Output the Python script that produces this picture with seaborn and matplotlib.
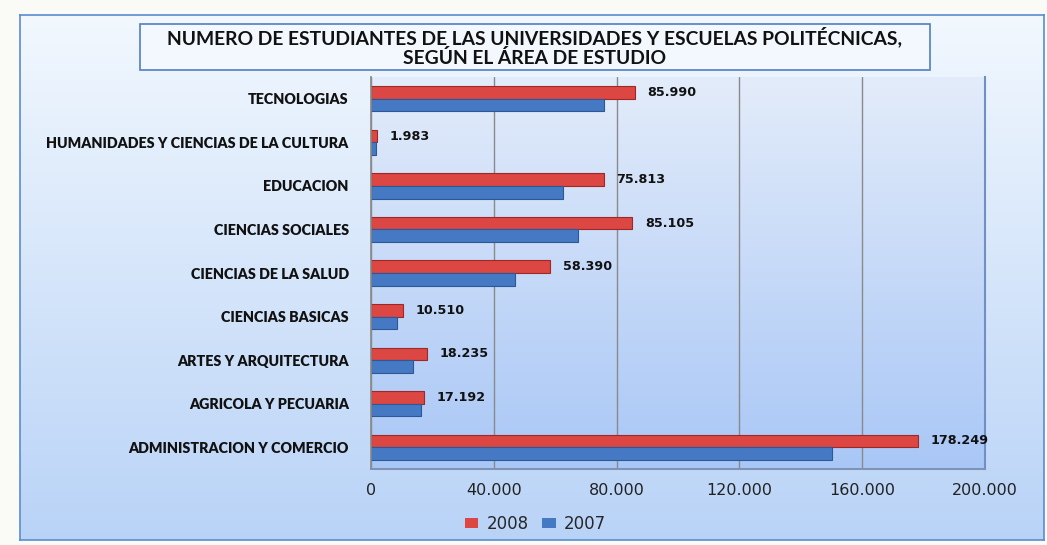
import matplotlib
matplotlib.use("Agg")
import matplotlib.pyplot as plt
from matplotlib.patches import Rectangle
from matplotlib.ticker import FuncFormatter
import numpy as np
import pandas as pd
import seaborn as sns

# datos
areas = [
    "TECNOLOGIAS",
    "HUMANIDADES Y CIENCIAS DE LA CULTURA",
    "EDUCACION",
    "CIENCIAS SOCIALES",
    "CIENCIAS DE LA SALUD",
    "CIENCIAS BASICAS",
    "ARTES Y ARQUITECTURA",
    "AGRICOLA Y PECUARIA",
    "ADMINISTRACION Y COMERCIO",
]
est_2008 = [85990, 1983, 75813, 85105, 58390, 10510, 18235, 17192, 178249]
est_2007 = [75800, 1600, 62700, 67400, 47000, 8600, 13700, 16200, 150000]
years = ["2008", "2007"]
xticks = [0, 40000, 80000, 120000, 160000, 200000]
title = ("NUMERO DE ESTUDIANTES DE LAS UNIVERSIDADES Y ESCUELAS POLITÉCNICAS,\n"
         "SEGÚN EL ÁREA DE ESTUDIO")

df = pd.DataFrame({
    "area": areas * 2,
    "anio": [years[0]] * len(areas) + [years[1]] * len(areas),
    "valor": est_2008 + est_2007,
})

sns.set_theme(style="white")
plt.rcParams["font.family"] = ["DejaVu Sans"]

fig = plt.figure(figsize=(10.47, 5.45), dpi=100)
fig.patch.set_facecolor("#fafaf6")

# fondo degradado del area del grafico
bg = fig.add_axes([0.019, 0.009, 0.978, 0.964], zorder=0)
grad = np.linspace(0, 1, 256).reshape(-1, 1)
cmap_bg = matplotlib.colors.LinearSegmentedColormap.from_list("bg", ["#f2f8fe", "#b9d3f7"])
bg.imshow(grad, aspect="auto", cmap=cmap_bg, extent=(0, 1, 0, 1), origin="upper")
bg.set_xticks([]); bg.set_yticks([])
for s in bg.spines.values():
    s.set_color("#5b8bd0"); s.set_linewidth(1.2)

# fondo degradado del area de trazado
pos = [0.3543, 0.1394, 0.5865, 0.7193]
pbg = fig.add_axes(pos, zorder=1)
cmap_p = matplotlib.colors.LinearSegmentedColormap.from_list("pl", ["#e3ecfa", "#a9c7f6"])
pbg.imshow(grad, aspect="auto", cmap=cmap_p, extent=(0, 1, 0, 1), origin="upper")
pbg.set_xticks([]); pbg.set_yticks([])
for s in pbg.spines.values():
    s.set_visible(False)

ax = fig.add_axes(pos, zorder=2)
ax.patch.set_alpha(0)
sns.barplot(data=df, y="area", x="valor", hue="anio", hue_order=years,
            palette=["#dc4643", "#4579c4"], saturation=1, orient="h", width=0.58,
            edgecolor="none", ax=ax, legend=True)

for c, ec in zip(ax.containers, ["#9e2826", "#2b5896"]):
    for b in c:
        b.set_edgecolor(ec)
        b.set_linewidth(0.8)

ax.set_xlim(0, 200000)
ax.set_ylim(len(areas) - 0.5, -0.5)
ax.set_xticks(xticks)
ax.xaxis.set_major_formatter(FuncFormatter(lambda v, p: f"{int(v):,}".replace(",", ".")))
ax.tick_params(axis="x", labelsize=11.5, colors="#222222", length=0, pad=10)
ax.tick_params(axis="y", length=0, pad=16)
for lbl in ax.get_yticklabels():
    lbl.set_fontfamily("Lato")
    lbl.set_fontweight("heavy")
    lbl.set_fontsize(10.3)
    lbl.set_color("#111111")
ax.set_xlabel("")
ax.set_ylabel("")
ax.grid(axis="x", color="#8a8a8a", linewidth=1.0)
ax.set_axisbelow(True)
ax.spines["top"].set_visible(False)
ax.spines["left"].set_color("#8a8a8a")
ax.spines["bottom"].set_color("#7f93b5")
ax.spines["right"].set_color("#6f8fc5")
ax.spines["bottom"].set_linewidth(1.5)
ax.spines["right"].set_linewidth(1.5)

# etiquetas de valor para 2008
ax.bar_label(ax.containers[0],
             labels=[f"{v:,}".replace(",", ".") for v in est_2008],
             padding=9, fontsize=9.2, fontweight="bold", color="#111111")

# leyenda
handles, labels = ax.get_legend_handles_labels()
ax.legend(handles, labels, loc="center", bbox_to_anchor=(0.268, -0.14),
          ncol=2, frameon=False, fontsize=12, handlelength=0.8,
          handleheight=0.6, columnspacing=0.8, handletextpad=0.5)

# titulo en recuadro
fig.text(0.511, 0.914, title, ha="center", va="center", fontsize=13.9,
         fontfamily="Lato", fontweight="bold", color="#111111", zorder=5,
         linespacing=1.15)
fig.patches.append(Rectangle((0.134, 0.871), 0.754, 0.085, transform=fig.transFigure,
                             facecolor="#f2f8fe", edgecolor="#4f7fc4", linewidth=1.2,
                             zorder=3))

fig.savefig("out.png", dpi=100, facecolor=fig.get_facecolor())
